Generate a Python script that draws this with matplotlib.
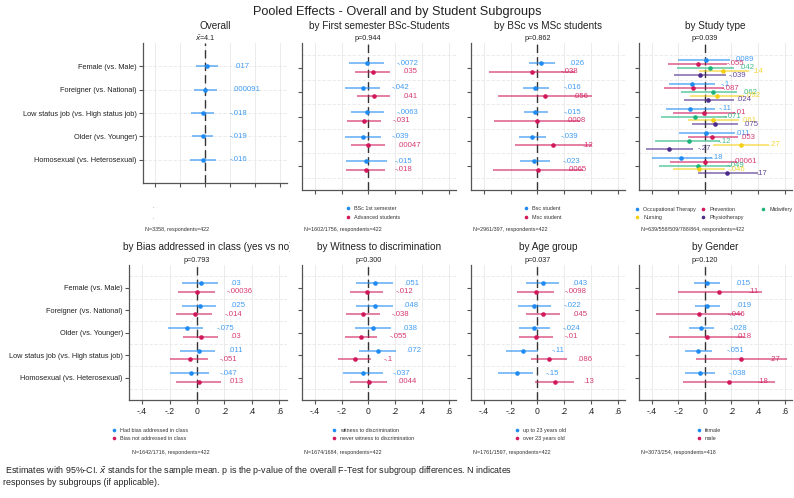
import numpy as np
import matplotlib.pyplot as plt
from matplotlib.transforms import Bbox, TransformedBbox

plt.rcParams['font.family'] = ['Liberation Sans', 'DejaVu Sans']

W, H = 794, 498

# ---------------- data ----------------
rows_top = ["Female (vs. Male)", "Foreigner (vs. National)", "Low status job (vs. High status job)",
            "Older (vs. Younger)", "Homosexual (vs. Heterosexual)"]
rows_bottom = ["Female (vs. Male)", "Foreigner (vs. National)", "Older (vs. Younger)",
               "Low status job (vs. High status job)", "Homosexual (vs. Heterosexual)"]
xticks = [-0.4, -0.2, 0, 0.2, 0.4, 0.6]
xticklabels = ["-.4", "-.2", "0", ".2", ".4", ".6"]

# Overall
ov_est = [[0.017, 0.000091, -0.018, -0.019, -0.016]]
ov_lo = [[-0.074, -0.085, -0.114, -0.106, -0.12]]
ov_hi = [[0.107, 0.093, 0.072, 0.067, 0.088]]

# by First semester BSc-Students
fs_est = [[-0.0072, -0.042, -0.0063, -0.039, -0.015],
          [0.035, 0.041, -0.031, 0.00047, -0.018]]
fs_lo = [[-0.141, -0.175, -0.128, -0.175, -0.168],
         [-0.096, -0.084, -0.16, -0.131, -0.163]]
fs_hi = [[0.121, 0.089, 0.114, 0.094, 0.138],
         [0.163, 0.163, 0.096, 0.126, 0.126]]
fs_legend = ["BSc 1st semester", "Advanced students"]

# by BSc vs MSc
bm_est = [[0.026, -0.016, -0.015, -0.039, -0.023],
          [-0.038, 0.056, 0.0008, 0.12, 0.0065]]
bm_lo = [[-0.063, -0.106, -0.1, -0.134, -0.126],
         [-0.36, -0.295, -0.32, -0.17, -0.333]]
bm_hi = [[0.132, 0.088, 0.083, 0.068, 0.093],
         [0.284, 0.41, 0.32, 0.41, 0.345]]
bm_legend = ["Bsc student", "Msc student"]

# by Study type
st_est = [[0.0089, -0.1, -0.11, 0.011, -0.18],
          [-0.055, -0.087, -0.01, 0.053, 0.00061],
          [0.042, 0.062, -0.071, -0.12, -0.049],
          [0.14, 0.092, 0.061, 0.27, -0.046],
          [-0.039, 0.024, 0.075, -0.27, 0.17]]
st_lo = [[-0.2, -0.268, -0.29, -0.198, -0.4],
         [-0.28, -0.31, -0.243, -0.13, -0.26],
         [-0.213, -0.18, -0.326, -0.376, -0.344],
         [-0.047, -0.11, -0.13, 0.058, -0.238],
         [-0.23, -0.16, -0.098, -0.44, -0.055]]
st_hi = [[0.188, 0.075, 0.073, 0.226, 0.053],
         [0.17, 0.145, 0.226, 0.246, 0.24],
         [0.22, 0.245, 0.17, 0.115, 0.195],
         [0.333, 0.295, 0.258, 0.484, 0.15],
         [0.158, 0.22, 0.25, -0.088, 0.396]]
st_legend = ["Occupational Therapy", "Prevention", "Midwifery", "Nursing", "Physiotherapy"]

# by Bias addressed in class
ba_est = [[0.03, 0.025, -0.075, 0.011, -0.047],
          [-0.00036, -0.014, 0.03, -0.051, 0.013]]
ba_lo = [[-0.112, -0.107, -0.209, -0.124, -0.197],
         [-0.139, -0.156, -0.102, -0.199, -0.151]]
ba_hi = [[0.156, 0.141, 0.044, 0.131, 0.088],
         [0.129, 0.112, 0.153, 0.08, 0.173]]
ba_legend = ["Had bias addressed in class", "Bias not addressed in class"]

# by Witness to discrimination
wd_est = [[0.051, 0.048, 0.038, 0.072, -0.037],
          [-0.012, -0.038, -0.055, -0.1, 0.0044]]
wd_lo = [[-0.089, -0.089, -0.096, -0.067, -0.187],
         [-0.138, -0.163, -0.175, -0.227, -0.138]]
wd_hi = [[0.183, 0.183, 0.168, 0.205, 0.113],
         [0.113, 0.089, 0.064, 0.02, 0.143]]
wd_legend = ["witness to discrimination", "never witness to discrimination"]

# by Age group
ag_est = [[0.043, -0.022, -0.024, -0.11, -0.15],
          [-0.0098, 0.045, -0.01, 0.086, 0.13]]
ag_lo = [[-0.081, -0.143, -0.139, -0.235, -0.296],
         [-0.148, -0.081, -0.14, -0.05, -0.015]]
ag_hi = [[0.165, 0.104, 0.094, 0.005, -0.03],
         [0.128, 0.173, 0.12, 0.222, 0.272]]
ag_legend = ["up to 23 years old", "over 23 years old"]

# by Gender
ge_est = [[0.015, 0.019, -0.028, -0.051, -0.038],
          [0.11, -0.046, 0.018, 0.27, 0.18]]
ge_lo = [[-0.08, -0.073, -0.12, -0.15, -0.148],
         [-0.205, -0.37, -0.273, -0.07, -0.168]]
ge_hi = [[0.115, 0.115, 0.07, 0.053, 0.077],
         [0.43, 0.278, 0.296, 0.62, 0.528]]
ge_legend = ["female", "male"]

# ---------------- style ----------------
BLUE = '#1f8bf2'
RED = '#d0185a'
GREEN = '#1fb37c'
YELLOW = '#f4cf14'
PURPLE = '#4b2a8c'
two_cols = [BLUE, RED]
five_cols = [BLUE, RED, GREEN, YELLOW, PURPLE]
XLIM = (-0.495, 0.655)


def fmt(v):
    s = np.format_float_positional(v, precision=2, fractional=False, trim='-')
    return s.replace('0.', '.', 1)


def frac(l, t, r, b):
    return [l / W, 1 - b / H, (r - l) / W, (b - t) / H]


fig = plt.figure(figsize=(W / 100, H / 100), dpi=100)
over = fig.add_axes([0, 0, 1, 1])
over.set_xlim(0, W)
over.set_ylim(H, 0)
over.axis('off')


def panel(box, est, lo, hi, colors, offsets, rows, top_text, title, xlab,
          cat_grid=False, title_clip=None):
    l, t, r, b = box
    ax = fig.add_axes(frac(l, t, r, b))
    ax.set_zorder(1)
    ax.patch.set_alpha(0)
    ax.set_xlim(*XLIM)
    ax.set_ylim(6, 0)
    pos = np.arange(1, len(est[0]) + 1)
    for k in range(len(est)):
        y = pos + offsets[k]
        ax.hlines(y, lo[k], hi[k], color=colors[k], alpha=0.6, lw=1.3, zorder=3)
        ax.plot(est[k], y, 'o', color=colors[k], ms=3.3, mec='none', zorder=4)
        for j, v in enumerate(est[k]):
            ax.annotate(fmt(v), (v + 0.2, y[j]), xytext=(1.5, 0), textcoords='offset points',
                        va='center', ha='left', fontsize=5.6, color=colors[k], alpha=0.85,
                        zorder=5)
    ax.axvline(0, color='#333333', lw=1.0, dashes=(6, 3), zorder=2)
    for x in xticks:
        ax.axvline(x, color='#e8e8e8', lw=0.6, zorder=0)
    gy = pos if cat_grid else np.arange(0.5, 6, 1.0)
    for g in gy:
        ax.axhline(g, color='#e8e8e8', lw=0.6, dashes=(4, 2), zorder=0)
    for s in ['top', 'right']:
        ax.spines[s].set_visible(False)
    for s in ['left', 'bottom']:
        ax.spines[s].set_color('#555555')
        ax.spines[s].set_linewidth(0.9)
    ax.set_xticks(xticks)
    ax.set_yticks(pos)
    ax.tick_params(colors='#555555', length=3, width=0.8, labelcolor='#222222')
    if xlab:
        ax.set_xticklabels(xticklabels, fontsize=6.2)
        ax.tick_params(axis='x', pad=2)
    else:
        ax.set_xticklabels([])
    if rows is not None:
        ax.set_yticklabels(rows, fontsize=5.3)
        ax.tick_params(axis='y', pad=1.5)
    else:
        ax.set_yticklabels([])
    # top annotation (p value / mean) at the zero line
    x0 = l + (0 - XLIM[0]) / (XLIM[1] - XLIM[0]) * (r - l)
    over.text(x0, t - 4.5, top_text, ha='center', va='center', fontsize=5.2, color='#222222')
    tt = over.text((l + r) / 2, t - 17 if t < 100 else t - 18, title, ha='center',
                   va='center', fontsize=7.2, color='#222222')
    if title_clip is not None:
        tt.set_clip_on(True)
        tt.set_clip_box(TransformedBbox(Bbox.from_extents(0, 0, title_clip, 1), fig.transFigure))
    return ax


def legend(x_markers, y_rows, labels, colors, ncol=1):
    for i, (lab, c) in enumerate(zip(labels, colors)):
        x = x_markers[i % ncol]
        y = y_rows[i // ncol]
        over.plot(x, y, 'o', color=c, ms=2.6, mec='none')
        over.text(x + 6, y, lab, ha='left', va='center', fontsize=3.9, color='#333333')


def ntext(x, y, s):
    over.text(x, y, s, ha='left', va='center', fontsize=3.9, color='#333333')


off2 = [-0.18, 0.18]
off5 = [-0.32, -0.16, 0.0, 0.16, 0.32]

# top row
panel((143, 43, 287, 183), ov_est, ov_lo, ov_hi, [BLUE], [0.0], rows_top,
      r'$\bar{x}$=4.1', "Overall", False, cat_grid=True)
over.text(153, 206, '.', ha='center', va='center', fontsize=4, color='#555555')
over.text(153, 217, '.', ha='center', va='center', fontsize=4, color='#555555')
ntext(145, 229, "N=3358, respondents=422")

panel((302, 43, 456, 190), fs_est, fs_lo, fs_hi, two_cols, off2, None,
      "p=0.944", "by First semester BSc-Students", False)
legend([348], [208, 217], fs_legend, two_cols)
ntext(304, 229, "N=1602/1756, respondents=422")

panel((471, 43, 625, 190), bm_est, bm_lo, bm_hi, two_cols, off2, None,
      "p=0.862", "by BSc vs MSc students", False)
legend([526], [208, 217], bm_legend, two_cols)
ntext(473, 229, "N=2961/397, respondents=422")

panel((639, 43, 792, 190), st_est, st_lo, st_hi, five_cols, off5, None,
      "p=0.039", "by Study type", False)
legend([637, 703, 763], [209, 217], st_legend, five_cols, ncol=3)
ntext(641, 229, "N=639/558/509/788/864, respondents=422")

# bottom row
panel((129, 265, 287, 400), ba_est, ba_lo, ba_hi, two_cols, off2, rows_bottom,
      "p=0.793", "by Bias addressed in class (yes vs no)", True, title_clip=290 / W)
legend([114], [430, 438], ba_legend, two_cols)
ntext(132, 452, "N=1642/1716, respondents=422")

panel((302, 265, 456, 400), wd_est, wd_lo, wd_hi, two_cols, off2, None,
      "p=0.300", "by Witness to discrimination", True)
legend([334], [430, 438], wd_legend, two_cols)
ntext(304, 452, "N=1674/1684, respondents=422")

panel((471, 265, 625, 400), ag_est, ag_lo, ag_hi, two_cols, off2, None,
      "p=0.037", "by Age group", True)
legend([517], [430, 438], ag_legend, two_cols)
ntext(473, 452, "N=1761/1597, respondents=422")

panel((639, 265, 792, 400), ge_est, ge_lo, ge_hi, two_cols, off2, None,
      "p=0.120", "by Gender", True)
legend([699], [430, 438], ge_legend, two_cols)
ntext(641, 452, "N=3073/254, respondents=418")

over.text(W / 2, 12, "Pooled Effects - Overall and by Student Subgroups", ha='center',
          va='center', fontsize=9.2, color='#222222')
over.text(3, 470, r" Estimates with 95%-CI. $\bar{x}$ stands for the sample mean. p is the p-value "
          "of the overall F-Test for subgroup differences. N indicates",
          ha='left', va='center', fontsize=6.4, color='#222222')
over.text(3, 482, "responses by subgroups (if applicable).", ha='left', va='center',
          fontsize=6.4, color='#222222')

fig.savefig("out.png", dpi=100)
